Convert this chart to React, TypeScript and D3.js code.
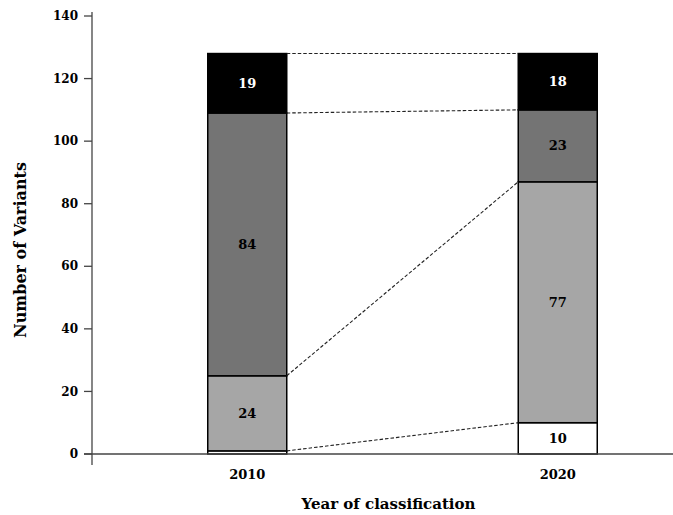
import * as d3 from "d3";
import React from "react";

const years = ["2010", "2020"];
const classes = ["benign", "likelyBenign", "vus", "pathogenic"];
const counts2010 = [1, 24, 84, 19];
const counts2020 = [10, 77, 23, 18];
const yTicks = [0, 20, 40, 60, 80, 100, 120, 140];

const fills = ["#ffffff", "#a6a6a6", "#747474", "#000000"];
const textFills = ["#000", "#000", "#000", "#fff"];

const W = 673, H = 515;
const margin = { left: 92, top: 16, bottom: 61 };
const plotRight = 713;
const font = "'DejaVu Serif', Georgia, serif";

const App = () => {
    const x = d3.scaleBand().domain(years).range([margin.left, plotRight]).paddingInner(0).paddingOuter(0);
    const y = d3.scaleLinear().domain([0, 140]).range([H - margin.bottom, margin.top]);
    const barW = 79;

    const series = [counts2010, counts2020];
    const stacked = series.map(vals => {
        let acc = 0;
        return vals.map((v, i) => {
            const s = { key: classes[i], y0: acc, y1: acc + v, v, i };
            acc += v;
            return s;
        });
    });

    const cx = (yr: string) => (x(yr) as number) + x.bandwidth() / 2;
    const left = (yr: string) => cx(yr) - barW / 2;

    return (
        <svg width={W} height={H} style={{ position: "absolute", left: 0, top: 0, background: "#fff" }} fontFamily={font}>
            {/* bars */}
            {stacked.map((segs, bi) => segs.map(s => (
                <g key={years[bi] + s.key}>
                    <rect x={left(years[bi])} y={y(s.y1)} width={barW} height={y(s.y0) - y(s.y1)}
                        fill={fills[s.i]} stroke="#000" strokeWidth={1.5} />
                    {s.v >= 5 &&
                        <text x={cx(years[bi])} y={(y(s.y0) + y(s.y1)) / 2} dy="0.35em" textAnchor="middle"
                            fontSize={13} fontWeight="bold" fill={textFills[s.i]}>{s.v}</text>}
                </g>
            )))}

            {/* dashed connectors */}
            {stacked[0].map((s, i) => (
                <line key={"c" + i} x1={left(years[0]) + barW} x2={left(years[1])}
                    y1={y(s.y1)} y2={y(stacked[1][i].y1)}
                    stroke="#222" strokeWidth={1.1} strokeDasharray="3.5,2" />
            ))}

            {/* axes */}
            <line x1={margin.left} x2={margin.left} y1={margin.top - 4} y2={y(0) + 11} stroke="#444" strokeWidth={1.3} />
            <line x1={margin.left - 8} x2={plotRight} y1={y(0)} y2={y(0)} stroke="#444" strokeWidth={1.3} />
            {yTicks.map(t => (
                <g key={t}>
                    <line x1={margin.left - 8} x2={margin.left} y1={y(t)} y2={y(t)} stroke="#444" strokeWidth={1.3} />
                    <text x={margin.left - 14} y={y(t)} dy="0.35em" textAnchor="end" fontSize={12} fontWeight="bold">{t}</text>
                </g>
            ))}
            {years.map(yr => (
                <text key={yr} x={cx(yr)} y={y(0) + 25} textAnchor="middle" fontSize={13} fontWeight="bold">{yr}</text>
            ))}

            {/* axis titles */}
            <text x={(margin.left + plotRight) / 2 - 14} y={H - 6} textAnchor="middle" fontSize={15} fontWeight="bold">Year of classification</text>
            <text transform={`translate(26,${(y(0) + y(140)) / 2 + 15}) rotate(-90)`} textAnchor="middle" fontSize={16} fontWeight="bold">Number of Variants</text>
        </svg>
    );
};

export default App;
